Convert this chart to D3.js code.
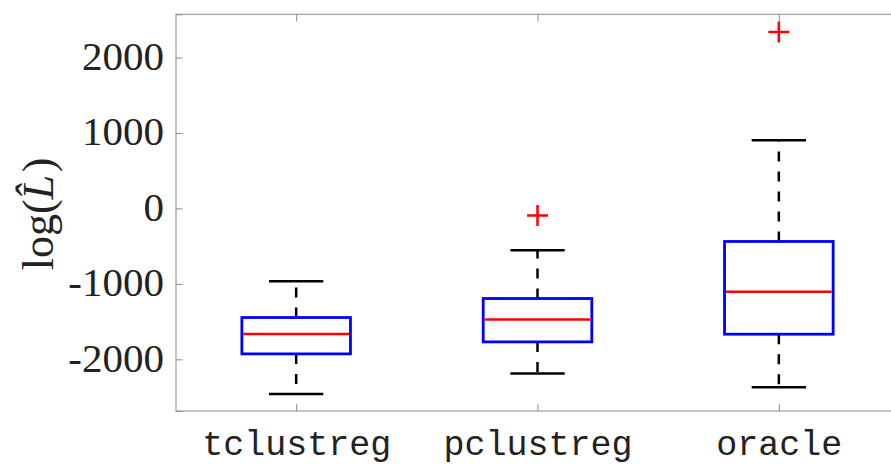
<!DOCTYPE html>
<html>
<head>
<meta charset="utf-8">
<script src="https://cdn.jsdelivr.net/npm/d3@7"></script>
<style>
  html, body { margin: 0; padding: 0; background: #fff; }
  svg { display: block; }
</style>
</head>
<body>
<svg id="chart" width="891" height="465"></svg>
<script>
// Box-plot summary per method
const groups       = ["tclustreg", "pclustreg", "oracle"];
const whiskerLow   = [-2459, -2188, -2370];
const quart1       = [-1928, -1769, -1667];
const medians      = [-1663, -1472, -1106];
const quart3       = [-1446, -1194, -438];
const whiskerHigh  = [-964, -553, 902];
const outliers     = [[], [-93], [2338]];
const yTicks       = [-2000, -1000, 0, 1000, 2000];

(function () {
const svg = d3.select("#chart");
const plotLeft = 175.5, plotTop = 14.3, plotBottom = 411, plotRight = 899.5;

const x = d3.scaleLinear().domain([0.5, groups.length + 0.5]).range([plotLeft, plotRight]);
const y = d3.scaleLinear().domain([-2685, 2573]).range([plotBottom, plotTop]);

const axisColor = "#8c8c8c";
const textColor = "#222222";

// Axes frame
const g = svg.append("g");
g.append("line").attr("x1", plotLeft).attr("x2", plotRight).attr("y1", plotTop).attr("y2", plotTop)
  .attr("stroke", axisColor).attr("stroke-width", 1);
g.append("line").attr("x1", plotLeft).attr("x2", plotRight).attr("y1", plotBottom).attr("y2", plotBottom)
  .attr("stroke", axisColor).attr("stroke-width", 1);

// Y axis, ticks pointing inward
const yAxis = d3.axisLeft(y).tickValues(yTicks).tickSize(-7).tickPadding(11.5)
  .tickFormat(d => String(d));
const ya = g.append("g").attr("transform", `translate(${plotLeft},0)`).call(yAxis);
ya.select(".domain").attr("stroke", axisColor);
ya.selectAll(".tick line").attr("stroke", axisColor);
ya.selectAll(".tick text")
  .attr("fill", textColor)
  .attr("dy", "0.29em")
  .style("font-family", "'Liberation Serif', 'DejaVu Serif', serif")
  .style("font-size", "41px");

// X axis: bottom and top ticks pointing inward
const xIdx = groups.map((_, i) => i + 1);
const xAxis = d3.axisBottom(x).tickValues(xIdx).tickSize(-7).tickPadding(0)
  .tickFormat((d) => groups[d - 1]);
const xa = g.append("g").attr("transform", `translate(0,${plotBottom})`).call(xAxis);
xa.select(".domain").remove();
xa.selectAll(".tick line").attr("stroke", axisColor);
xa.selectAll(".tick text")
  .attr("fill", textColor)
  .attr("y", 44)
  .attr("dy", null)
  .style("font-family", "'Liberation Mono', 'DejaVu Sans Mono', monospace")
  .style("font-size", "35px");

const xTop = d3.axisTop(x).tickValues(xIdx).tickSize(-7).tickFormat("");
const xt = g.append("g").attr("transform", `translate(0,${plotTop})`).call(xTop);
xt.select(".domain").remove();
xt.selectAll(".tick line").attr("stroke", axisColor);

// Y label: log(L-hat), hat as a combining circumflex on the italic L
const lab = svg.append("text")
  .attr("transform", "translate(53,214) rotate(-90)")
  .attr("text-anchor", "middle")
  .attr("fill", textColor)
  .style("font-family", "'Liberation Serif', 'DejaVu Serif', serif")
  .style("font-size", "44px");
lab.append("tspan").text("log(");
lab.append("tspan").attr("font-style", "italic").text("L\u0302");
lab.append("tspan").attr("dx", "0.06em").text(")");

// Boxes
const halfBox = 0.225, halfCap = 0.1125;
const boxes = svg.append("g");
groups.forEach((name, i) => {
  const cx = x(i + 1);
  const gb = boxes.append("g");
  // whiskers (dashed), drawn outward from the box
  gb.append("line").attr("x1", cx).attr("x2", cx)
    .attr("y1", y(quart3[i])).attr("y2", y(whiskerHigh[i]))
    .attr("stroke", "#000").attr("stroke-width", 2.5).attr("stroke-dasharray", "10,10");
  gb.append("line").attr("x1", cx).attr("x2", cx)
    .attr("y1", y(quart1[i])).attr("y2", y(whiskerLow[i]))
    .attr("stroke", "#000").attr("stroke-width", 2.5).attr("stroke-dasharray", "10,10");
  // caps
  [whiskerHigh[i], whiskerLow[i]].forEach(v => {
    gb.append("line")
      .attr("x1", x(i + 1 - halfCap)).attr("x2", x(i + 1 + halfCap))
      .attr("y1", y(v)).attr("y2", y(v))
      .attr("stroke", "#000").attr("stroke-width", 2.5);
  });
  // box
  gb.append("rect")
    .attr("x", x(i + 1 - halfBox)).attr("width", x(i + 1 + halfBox) - x(i + 1 - halfBox))
    .attr("y", y(quart3[i])).attr("height", y(quart1[i]) - y(quart3[i]))
    .attr("fill", "none").attr("stroke", "#0000ff").attr("stroke-width", 2.8);
  // median
  gb.append("line")
    .attr("x1", x(i + 1 - halfBox) + 1.4).attr("x2", x(i + 1 + halfBox) - 1.4)
    .attr("y1", y(medians[i])).attr("y2", y(medians[i]))
    .attr("stroke", "#ff0000").attr("stroke-width", 2.5);
  // outliers
  outliers[i].forEach(v => {
    const oy = y(v), s = 10.5;
    gb.append("path")
      .attr("d", `M${cx - s},${oy}H${cx + s}M${cx},${oy - s}V${oy + s}`)
      .attr("stroke", "#ff0000").attr("stroke-width", 2.5).attr("fill", "none");
  });
});
})();
</script>
</body>
</html>
